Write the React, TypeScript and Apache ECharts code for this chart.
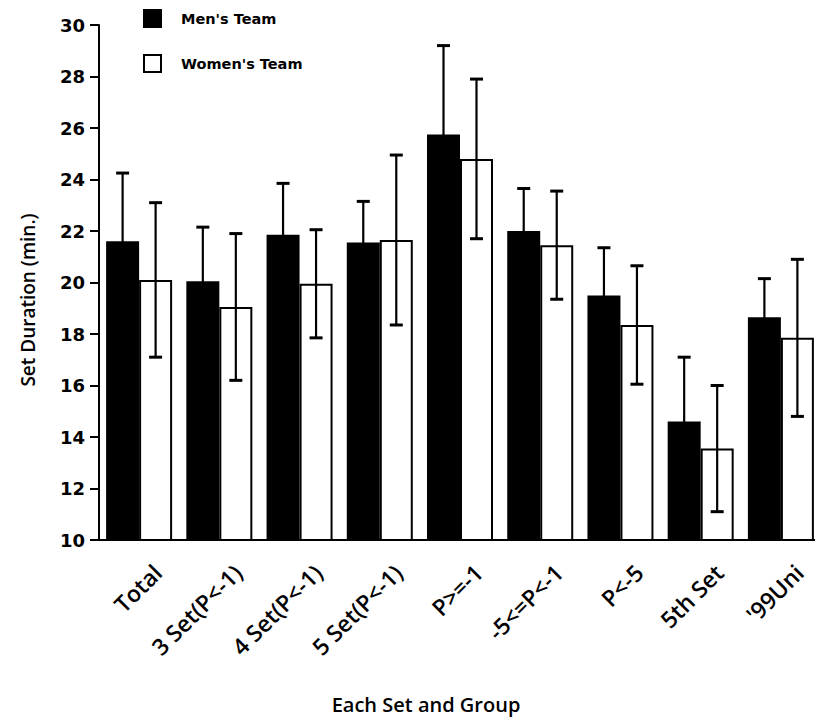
import React, { useEffect, useRef } from "react";
import * as echarts from "echarts";

const categories = ["Total", "3 Set(P<-1)", "4 Set(P<-1)", "5 Set(P<-1)", "P>=-1", "-5<=P<-1", "P<-5", "5th Set", "'99Uni"];
const menMeans = [21.6, 20.05, 21.85, 21.55, 25.75, 22.0, 19.5, 14.6, 18.65];
const menSd = [2.65, 2.1, 2.0, 1.6, 3.45, 1.65, 1.85, 2.5, 1.5];
const womenMeans = [20.1, 19.05, 19.95, 21.65, 24.8, 21.45, 18.35, 13.55, 17.85];
const womenSd = [3.0, 2.85, 2.1, 3.3, 3.1, 2.1, 2.3, 2.45, 3.05];
const yTicks = [10, 12, 14, 16, 18, 20, 22, 24, 26, 28, 30];
const seriesNames = ["Men's Team", "Women's Team"];
const xTitle = "Each Set and Group";
const yTitle = "Set Duration (min.)";

const BAR_W = 33;

function errorRender(offset: number) {
  return (params: any, api: any) => {
    const x = api.value(0);
    const v = api.value(1);
    const sd = api.value(2);
    const top = api.coord([x, v + sd]);
    const bot = api.coord([x, v - sd]);
    const cx = top[0] + offset;
    const cap = 6.5;
    const style = { stroke: "#000", lineWidth: 2.2 };
    return {
      type: "group",
      children: [
        { type: "line", shape: { x1: cx, y1: top[1], x2: cx, y2: bot[1] }, style },
        { type: "line", shape: { x1: cx - cap, y1: top[1], x2: cx + cap, y2: top[1] }, style: { stroke: "#000", lineWidth: 3 } },
        { type: "line", shape: { x1: cx - cap, y1: bot[1], x2: cx + cap, y2: bot[1] }, style: { stroke: "#000", lineWidth: 3 } },
      ],
    };
  };
}

export default function App() {
  const ref = useRef<HTMLDivElement>(null);
  useEffect(() => {
    if (!ref.current) return;
    const chart = echarts.init(ref.current, null, { renderer: "svg" });
    chart.setOption({
      animation: false,
      backgroundColor: "#fff",
      grid: { left: 99, right: 9, top: 25, bottom: 178 },
      xAxis: {
        type: "category",
        data: categories,
        axisLine: { lineStyle: { color: "#000", width: 2 } },
        axisTick: { alignWithLabel: true, length: 9, lineStyle: { color: "#000", width: 2 } },
        axisLabel: {
          rotate: 45,
          margin: 10,
          verticalAlign: "top",
          lineHeight: 52,
          fontFamily: "Open Sans",
          fontWeight: 600,
          fontSize: 23,
          color: "#000",
        },
      },
      yAxis: {
        type: "value",
        min: yTicks[0],
        max: yTicks[yTicks.length - 1],
        interval: 2,
        splitLine: { show: false },
        axisLine: { show: true, lineStyle: { color: "#000", width: 2 } },
        axisTick: { show: true, length: 9, lineStyle: { color: "#000", width: 2 } },
        axisLabel: { margin: 14, fontFamily: "DejaVu Sans", fontWeight: "bold", fontSize: 18, color: "#000" },
      },
      graphic: [
        { type: "rect", shape: { x: 143, y: 9, width: 19, height: 19 }, style: { fill: "#000" } },
        { type: "rect", shape: { x: 144, y: 55, width: 17, height: 17 }, style: { fill: "#fff", stroke: "#000", lineWidth: 2 } },
        { type: "text", x: 181, y: 19, style: { text: seriesNames[0], fontFamily: "DejaVu Sans", fontWeight: "bold", fontSize: 14.5, fill: "#000", verticalAlign: "middle" } },
        { type: "text", x: 181, y: 64, style: { text: seriesNames[1], fontFamily: "DejaVu Sans", fontWeight: "bold", fontSize: 14.5, fill: "#000", verticalAlign: "middle" } },
        { type: "text", x: 426, y: 704, style: { text: xTitle, fontFamily: "Open Sans", fontWeight: 600, fontSize: 20, fill: "#000", align: "center", verticalAlign: "middle" } },
        { type: "text", x: 28, y: 300, rotation: Math.PI / 2, style: { text: yTitle, fontFamily: "Open Sans", fontWeight: 600, fontSize: 19, fill: "#000", align: "center", verticalAlign: "middle" } },
      ],
      series: [
        {
          name: seriesNames[0],
          type: "bar",
          data: menMeans,
          barWidth: BAR_W,
          barGap: "0%",
          itemStyle: { color: "#000" },
        },
        {
          name: seriesNames[1],
          type: "bar",
          data: womenMeans,
          barWidth: BAR_W,
          barGap: "0%",
          itemStyle: { color: "#fff", borderColor: "#000", borderWidth: 2 },
        },
        {
          type: "custom",
          name: "menErr",
          data: categories.map((_, i) => [i, menMeans[i], menSd[i]]),
          encode: { x: 0, y: 1 },
          renderItem: errorRender(-BAR_W / 2),
          z: 5,
        },
        {
          type: "custom",
          name: "womenErr",
          data: categories.map((_, i) => [i, womenMeans[i], womenSd[i]]),
          encode: { x: 0, y: 1 },
          renderItem: errorRender(BAR_W / 2),
          z: 5,
        },
      ],
    });
    return () => chart.dispose();
  }, []);
  return (
    <div style={{ position: "absolute", left: 0, top: 0, width: 815, height: 718, overflow: "hidden", background: "#fff" }}>
      <div ref={ref} style={{ width: 830, height: 718 }} />
    </div>
  );
}
